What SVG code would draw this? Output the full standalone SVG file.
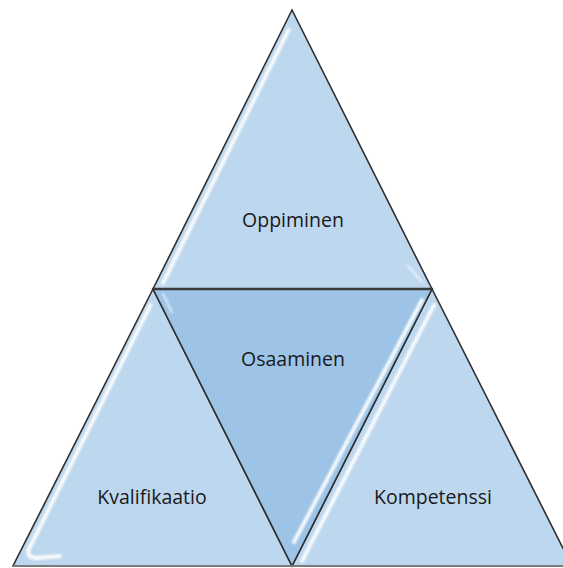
<svg xmlns="http://www.w3.org/2000/svg" width="563" height="568" viewBox="0 0 563 568">
  <defs>
    <filter id="soft" x="-20%" y="-20%" width="140%" height="140%">
      <feGaussianBlur stdDeviation="1"/>
    </filter>
    <style>
      .tri { fill: #BDD7EE; stroke: #2f2f2f; stroke-width: 1.6; stroke-linejoin: miter; }
      .mid { fill: #9DC3E6; }
      .hl { fill: none; stroke: #ffffff; stroke-width: 3.8; stroke-linecap: round; opacity: 0.95; filter: url(#soft); }
      .hl2 { fill: none; stroke: #ffffff; stroke-width: 2.4; stroke-linecap: round; opacity: 0.6; filter: url(#soft); }
      .lbl { font-family: "Open Sans", "Noto Sans", "Liberation Sans", sans-serif; font-size: 19.5px; fill: #1a1a1a; text-anchor: middle; }
    </style>
  </defs>
  <rect width="563" height="568" fill="#ffffff"/>

  <g id="oppiminen">
    <polygon class="tri" points="292,10 153,289 432,289"/>
    <path class="hl" d="M288.5,30 L163,283"/>
    <path class="hl2" d="M408,266 L422,282"/>
    <text class="lbl" x="293" y="227">Oppiminen</text>
  </g>

  <g id="kvalifikaatio">
    <polygon class="tri" points="153,289 13,566 292,566"/>
    <path class="hl" d="M150.5,305 L28,551 Q28,558 36,558 L60,556"/>
    <text class="lbl" x="152" y="504">Kvalifikaatio</text>
  </g>

  <g id="kompetenssi">
    <polygon class="tri" points="432,289 292,566 572,566"/>
    <path class="hl" d="M434,305 L302,561"/>
    <text class="lbl" x="433" y="504">Kompetenssi</text>
  </g>

  <g id="osaaminen">
    <polygon class="tri mid" points="153,289 432,289 292,566"/>
    <path class="hl" d="M422,300 L294,542"/>
    <path class="hl2" d="M163,294 L172,312"/>
    <text class="lbl" x="293" y="366">Osaaminen</text>
  </g>

  <g id="edges">
    <line x1="153" y1="289" x2="432" y2="289" stroke="#3a3a3a" stroke-width="2.6"/>
    <line x1="13" y1="566" x2="563" y2="566" stroke="#7a7a7a" stroke-width="2"/>
  </g>
</svg>
